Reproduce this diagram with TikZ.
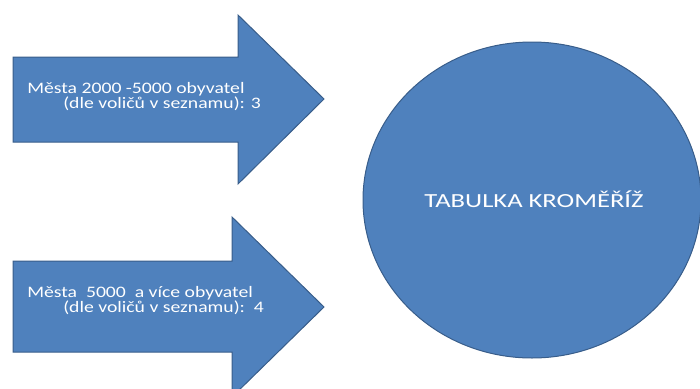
\documentclass[tikz,border=0pt]{standalone}
\usepackage{fontspec}
\setmainfont{Carlito}
\newfontfamily\widefont[FakeStretch=1.23]{Carlito}
\newfontfamily\titlefont[FakeStretch=1.33]{Carlito}
\usepackage{tikz}

\definecolor{shapefill}{RGB}{79,129,189}
\definecolor{shapeline}{RGB}{56,93,138}

\begin{document}
\begin{tikzpicture}[x=0.75pt,y=0.75pt,yscale=-1,xscale=1,
  blueshape/.style={fill=shapefill,draw=shapeline,line width=0.75},
  arrowtext/.style={anchor=north west,inner sep=0pt,align=left,text=white,font=\widefont\fontsize{12}{10.5}\selectfont},
  titletext/.style={inner sep=0pt,text=white,font=\titlefont\fontsize{15}{18}\selectfont}]
\useasboundingbox (0,0) rectangle (700,389);

%Shape: Right Arrow [id:upper]
\draw [blueshape] (13,57) -- (238,57) -- (238,15) -- (324,99) -- (238,184) -- (238,142) -- (13,142) -- cycle ;
%Shape: Right Arrow [id:lower]
\draw [blueshape] (13,261) -- (232,261) -- (232,217) -- (324,307) -- (232,397) -- (232,352) -- (13,352) -- cycle ;
%Shape: Ellipse [id:table]
\draw [blueshape] (532,200) ellipse [x radius=169, y radius=158] ;

% Text Node
\node (small) [arrowtext] at (27,82) {Města 2000 -5000 obyvatel\\\hspace*{27pt}(dle voličů v seznamu): 3};
% Text Node
\node (large) [arrowtext] at (27,286) {Města\ \ 5000\ \ a více obyvatel\\\hspace*{27pt}(dle voličů v seznamu):\ \ 4};
% Text Node
\node (title) [titletext] at (534,199) {TABULKA KROMĚŘÍŽ};

\end{tikzpicture}
\end{document}
